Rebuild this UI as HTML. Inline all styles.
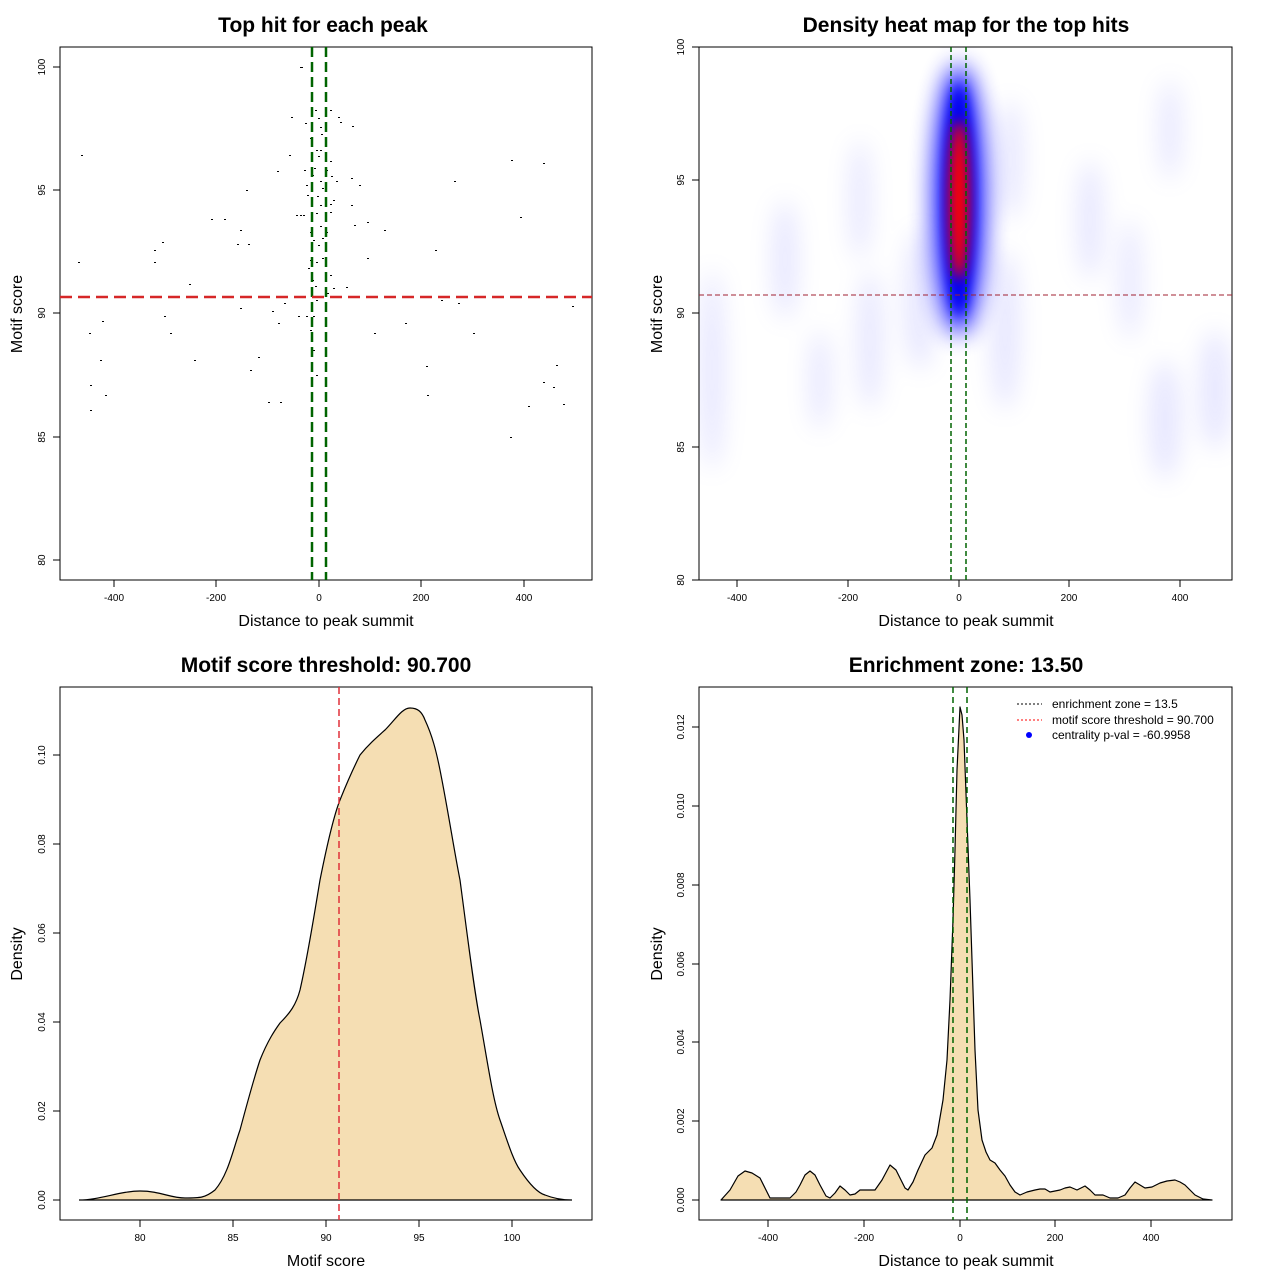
<!DOCTYPE html><html><head><style>body{margin:0;background:#fff}svg{display:block}text{font-family:"Liberation Sans",sans-serif}</style></head><body>
<svg width="1280" height="1280" xmlns="http://www.w3.org/2000/svg">
<defs>
<filter id="b1" x="-50%" y="-50%" width="200%" height="200%"><feGaussianBlur stdDeviation="12"/></filter>
<filter id="b2" x="-50%" y="-50%" width="200%" height="200%"><feGaussianBlur stdDeviation="6"/></filter>
<clipPath id="c2"><rect x="699" y="47" width="533" height="533"/></clipPath>
</defs>
<g font-weight="bold" font-size="21" text-anchor="middle">
<text x="323" y="32">Top hit for each peak</text>
<text x="966" y="32">Density heat map for the top hits</text>
<text x="326" y="672">Motif score threshold: 90.700</text>
<text x="966" y="672">Enrichment zone: 13.50</text>
</g>
<g font-size="16" text-anchor="middle">
<text x="326" y="626">Distance to peak summit</text>
<text x="966" y="626">Distance to peak summit</text>
<text x="326" y="1266">Motif score</text>
<text x="966" y="1266">Distance to peak summit</text>
<text transform="translate(22,314) rotate(-90)">Motif score</text>
<text transform="translate(662,314) rotate(-90)">Motif score</text>
<text transform="translate(22,954) rotate(-90)">Density</text>
<text transform="translate(662,954) rotate(-90)">Density</text>
</g>
<g stroke="#000" fill="none">
<rect x="60" y="47" width="532" height="533"/>
<rect x="60" y="687" width="532" height="533"/>
<rect x="699" y="687" width="533" height="533"/>
<path d="M114 580v7M216 580v7M319 580v7M421 580v7M524 580v7M60 67h-7M60 190h-7M60 313h-7M60 437h-7M60 560h-7"/>
<path d="M737 580v7M848 580v7M959 580v7M1069 580v7M1180 580v7M699 47h-7M699 180h-7M699 313h-7M699 447h-7M699 580h-7"/>
<path d="M140 1220v7M233 1220v7M326 1220v7M419 1220v7M512 1220v7M60 1200h-7M60 1111h-7M60 1022h-7M60 933h-7M60 844h-7M60 755h-7"/>
<path d="M768 1220v7M864 1220v7M960 1220v7M1055 1220v7M1151 1220v7M699 1200h-7M699 1121h-7M699 1042h-7M699 964h-7M699 885h-7M699 806h-7M699 727h-7"/>
</g>
<g font-size="10" text-anchor="middle">
<text x="114" y="601">-400</text><text x="216" y="601">-200</text><text x="319" y="601">0</text><text x="421" y="601">200</text><text x="524" y="601">400</text>
<text x="737" y="601">-400</text><text x="848" y="601">-200</text><text x="959" y="601">0</text><text x="1069" y="601">200</text><text x="1180" y="601">400</text>
<text x="140" y="1241">80</text><text x="233" y="1241">85</text><text x="326" y="1241">90</text><text x="419" y="1241">95</text><text x="512" y="1241">100</text>
<text x="768" y="1241">-400</text><text x="864" y="1241">-200</text><text x="960" y="1241">0</text><text x="1055" y="1241">200</text><text x="1151" y="1241">400</text>
<text transform="translate(45,67) rotate(-90)">100</text><text transform="translate(45,190) rotate(-90)">95</text><text transform="translate(45,313) rotate(-90)">90</text><text transform="translate(45,437) rotate(-90)">85</text><text transform="translate(45,560) rotate(-90)">80</text>
<text transform="translate(684,47) rotate(-90)">100</text><text transform="translate(684,180) rotate(-90)">95</text><text transform="translate(684,313) rotate(-90)">90</text><text transform="translate(684,447) rotate(-90)">85</text><text transform="translate(684,580) rotate(-90)">80</text>
<text transform="translate(45,1200) rotate(-90)">0.00</text><text transform="translate(45,1111) rotate(-90)">0.02</text><text transform="translate(45,1022) rotate(-90)">0.04</text><text transform="translate(45,933) rotate(-90)">0.06</text><text transform="translate(45,844) rotate(-90)">0.08</text><text transform="translate(45,755) rotate(-90)">0.10</text>
<text transform="translate(684,1200) rotate(-90)">0.000</text><text transform="translate(684,1121) rotate(-90)">0.002</text><text transform="translate(684,1042) rotate(-90)">0.004</text><text transform="translate(684,964) rotate(-90)">0.006</text><text transform="translate(684,885) rotate(-90)">0.008</text><text transform="translate(684,806) rotate(-90)">0.010</text><text transform="translate(684,727) rotate(-90)">0.012</text>
</g>
<g fill="#000">
<path d="M81 155h2v1h-2zM78 262h2v1h-2zM89 333h2v1h-2zM102 321h2v1h-2zM100 360h2v1h-2zM90 385h2v1h-2zM105 395h2v1h-2zM90 410h2v1h-2zM162 242h2v1h-2zM154 250h2v1h-2zM154 262h2v1h-2zM164 316h2v1h-2zM170 333h2v1h-2zM189 284h2v1h-2zM194 360h2v1h-2zM211 219h2v1h-2zM224 219h2v1h-2zM240 230h2v1h-2zM237 244h2v1h-2zM248 244h2v1h-2zM246 190h2v1h-2zM240 308h2v1h-2zM250 370h2v1h-2zM258 357h2v1h-2zM268 402h2v1h-2zM280 402h2v1h-2zM272 311h2v1h-2zM278 323h2v1h-2zM284 303h2v1h-2zM277 171h2v1h-2zM289 155h2v1h-2zM291 117h2v1h-2zM296 215h2v1h-2zM300 215h2v1h-2zM303 215h2v1h-2zM298 316h2v1h-2zM300 67h3v1h-3zM336 181h2v1h-2zM351 178h2v1h-2zM359 185h2v1h-2zM351 205h2v1h-2zM354 225h2v1h-2zM367 222h2v1h-2zM367 258h2v1h-2zM384 230h2v1h-2zM374 333h2v1h-2zM405 323h2v1h-2zM427 395h2v1h-2zM441 300h2v1h-2zM426 366h2v1h-2zM435 250h2v1h-2zM454 181h2v1h-2zM458 303h2v1h-2zM473 333h2v1h-2zM511 160h2v1h-2zM520 217h2v1h-2zM510 437h2v1h-2zM528 406h2v1h-2zM543 163h2v1h-2zM543 382h2v1h-2zM553 387h2v1h-2zM556 365h2v1h-2zM563 404h2v1h-2zM572 306h2v1h-2zM306 316h2v1h-2zM313 316h2v1h-2zM338 117h2v1h-2zM340 122h2v1h-2zM352 126h2v1h-2zM305 123h2v1h-2zM318 118h2v1h-2zM320 127h2v1h-2zM321 134h2v1h-2zM316 150h2v1h-2zM320 150h2v1h-2zM318 156h2v1h-2zM325 156h2v1h-2zM330 161h2v1h-2zM331 176h2v1h-2zM320 181h2v1h-2zM314 168h2v1h-2zM326 170h2v1h-2zM304 170h2v1h-2zM306 185h2v1h-2zM312 175h2v1h-2zM317 196h2v1h-2zM322 188h2v1h-2zM325 198h2v1h-2zM330 204h2v1h-2zM333 200h2v1h-2zM320 205h2v1h-2zM316 213h2v1h-2zM320 226h2v1h-2zM330 212h2v1h-2zM322 238h2v1h-2zM313 240h2v1h-2zM318 245h2v1h-2zM322 258h2v1h-2zM316 262h2v1h-2zM310 260h2v1h-2zM330 275h2v1h-2zM312 280h2v1h-2zM315 286h2v1h-2zM325 281h2v1h-2zM333 288h2v1h-2zM320 297h2v1h-2zM327 293h2v1h-2zM310 232h2v1h-2zM308 268h2v1h-2zM326 232h2v1h-2zM315 110h2v1h-2zM330 110h2v1h-2zM307 195h2v1h-2zM310 138h2v1h-2zM313 350h2v1h-2zM316 375h2v1h-2zM346 287h2v1h-2zM310 330h2v1h-2zM316 300h2v1h-2z"/>
</g>
<g stroke="#006400" stroke-width="2.5" stroke-dasharray="10,5"><path d="M312 47v533M326 47v533"/></g>
<path d="M60 297h532" stroke="#d62728" stroke-width="2.5" stroke-dasharray="12,6"/>
<g clip-path="url(#c2)">
<g fill="#8080ff" filter="url(#b1)" opacity="0.2">
<ellipse cx="712" cy="370" rx="12" ry="100"/><ellipse cx="785" cy="260" rx="12" ry="60"/><ellipse cx="860" cy="200" rx="10" ry="60"/><ellipse cx="870" cy="340" rx="12" ry="70"/><ellipse cx="920" cy="300" rx="15" ry="70"/><ellipse cx="1005" cy="330" rx="14" ry="80"/><ellipse cx="1010" cy="160" rx="12" ry="60"/><ellipse cx="1090" cy="220" rx="12" ry="60"/><ellipse cx="1165" cy="420" rx="15" ry="60"/><ellipse cx="1215" cy="390" rx="15" ry="60"/><ellipse cx="1170" cy="130" rx="10" ry="50"/><ellipse cx="1130" cy="280" rx="10" ry="60"/><ellipse cx="820" cy="380" rx="10" ry="50"/>
</g>
<ellipse cx="959" cy="200" rx="26" ry="135" fill="#0000ff" filter="url(#b1)" opacity="0.9"/>
<ellipse cx="959" cy="200" rx="15" ry="115" fill="#0000ee" filter="url(#b2)"/>
<ellipse cx="959" cy="200" rx="10" ry="80" fill="#ff0000" filter="url(#b2)"/>
</g>
<rect x="699" y="47" width="533" height="533" fill="none" stroke="#000"/>
<path d="M699 295h533" stroke="#a02030" stroke-dasharray="5,3"/>
<g stroke="#006400" stroke-width="1.5" stroke-dasharray="5,3"><path d="M951 47v533M966 47v533"/></g>
<path d="M79 1200C100 1200 120 1191 140 1191C160 1191 170 1198 185 1198C200 1198 205 1198 215 1190C228 1175 233 1150 240 1130C248 1100 255 1075 260 1060C268 1040 275 1030 280 1023C290 1013 296 1005 300 990C308 955 315 910 320 880C328 840 334 815 340 800C350 775 355 765 360 755C368 745 376 738 385 730C395 720 402 708 410 708C418 708 422 712 425 720C432 735 436 750 440 770C448 810 454 850 460 880C468 940 474 990 480 1020C488 1065 493 1100 500 1120C507 1140 513 1160 520 1170C530 1185 538 1193 545 1195C555 1199 565 1200 572 1200Z" fill="#f5deb3" stroke="#000" stroke-width="1.2"/>
<path d="M339 687v533" stroke="#e0303a" stroke-width="1.5" stroke-dasharray="7,4"/>
<path d="M721 1200L730 1190L738 1176L745 1171L752 1173L760 1178L766 1190L770 1198L790 1198L796 1192L800 1185L805 1175L810 1171L815 1175L820 1185L826 1196L830 1198L835 1193L840 1186L845 1190L850 1195L855 1194L860 1190L875 1190L882 1180L890 1165L896 1170L900 1178L905 1188L908 1190L913 1182L918 1170L925 1155L932 1148L937 1135L943 1100L947 1060L950 1000L953 920L955 850L957 770L960 707L962 715L964 740L967 820L970 900L973 990L975 1050L978 1110L982 1140L986 1152L990 1160L995 1163L1000 1170L1005 1176L1010 1185L1015 1192L1020 1195L1027 1192L1035 1190L1040 1189L1045 1189L1050 1192L1060 1190L1065 1188L1070 1187L1077 1190L1085 1186L1090 1190L1095 1195L1103 1195L1110 1198L1118 1198L1125 1195L1130 1188L1135 1182L1140 1185L1145 1188L1152 1187L1160 1183L1167 1181L1175 1180L1180 1182L1185 1185L1190 1190L1195 1195L1203 1199L1212 1200Z" fill="#f5deb3" stroke="#000" stroke-width="1.2" stroke-linejoin="round"/>
<g stroke="#006400" stroke-width="1.5" stroke-dasharray="6,4"><path d="M953 687v533M967 687v533"/></g>
<g font-size="12">
<path d="M1017 704h25" stroke="#000" stroke-dasharray="2,2"/><text x="1052" y="708">enrichment zone = 13.5</text>
<path d="M1017 720h25" stroke="#f00" stroke-dasharray="2,2"/><text x="1052" y="724">motif score threshold = 90.700</text>
<circle cx="1029" cy="735" r="3" fill="#00f"/><text x="1052" y="739">centrality p-val = -60.9958</text>
</g>
</svg>
</body></html>
